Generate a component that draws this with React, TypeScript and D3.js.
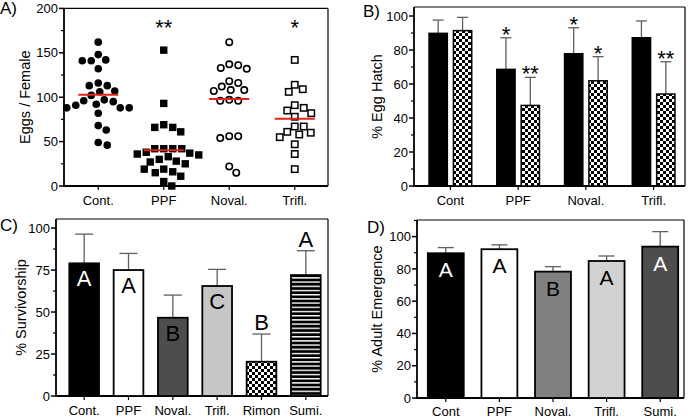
import React from 'react';
import * as d3 from 'd3';

const FONT = "Arial, 'Liberation Sans', Helvetica, sans-serif";

// ---------- Panel A: eggs per female ----------
const eggCategories = ['Cont.', 'PPF', 'Noval.', 'Trifl.'];
const eggsCont = [162, 148, 142, 141, 141, 132, 116, 113, 113, 107, 106, 102, 97, 96, 95, 92, 91, 88, 88, 88, 82, 68, 63, 49, 46];
const eggsPPF = [153, 93, 69, 66, 66, 61, 42, 42, 42, 42, 38, 37, 36, 35, 33, 30, 28, 27, 25, 19, 19, 16, 15, 11, 5, 0];
const eggsNoval = [162, 137, 136, 133, 132, 118, 116, 112, 108, 108, 107, 97, 96, 96, 56, 56, 54, 22, 15];
const eggsTrifl = [142, 114, 109, 106, 91, 88, 85, 82, 78, 67, 67, 61, 60, 58, 55, 47, 36, 19];
const eggStars = ['', '**', '', '*'];
const eggTicks = [0, 50, 100, 150, 200];

// ---------- Panel B: % egg hatch ----------
const hatchCategories = ['Cont', 'PPF', 'Noval.', 'Trifl.'];
const hatchSolid = [89.8, 68.6, 77.8, 87.2];
const hatchSolidErr = [7.8, 18.6, 15.3, 9.9];
const hatchChecked = [91.4, 47.4, 61.9, 54.1];
const hatchCheckedErr = [7.8, 16.5, 14.2, 19.0];
const hatchSolidStars = ['', '*', '*', ''];
const hatchCheckedStars = ['', '**', '*', '**'];
const hatchTicks = [0, 20, 40, 60, 80, 100];

// ---------- Panel C: % survivorship ----------
const survCategories = ['Cont.', 'PPF', 'Noval.', 'Trifl.', 'Rimon', 'Sumi.'];
const survValues = [79, 75, 46.6, 65.5, 20.4, 72];
const survErr = [17.4, 9.9, 13.5, 9.9, 16.5, 14.5];
const survLetters = ['A', 'A', 'B', 'C', 'B', 'A'];
const survLetterInside = [true, true, true, true, false, false];
const survTicks = [0, 25, 50, 75, 100];

// ---------- Panel D: % adult emergence ----------
const emergCategories = ['Cont', 'PPF', 'Noval.', 'Trifl.', 'Sumi.'];
const emergValues = [89.7, 92.2, 78.3, 84.9, 93.8];
const emergErr = [3.5, 2.7, 3.1, 3.1, 9.3];
const emergLetters = ['A', 'A', 'B', 'A', 'A'];
const emergTicks = [0, 20, 40, 60, 80, 100];

// ---------- styles ----------
const survFills = ['#000', '#fff', '#4d4d4d', '#c6c6c6', 'url(#checker)', 'url(#hstripes)'];
const survLetterColors = ['#fff', '#000', '#000', '#000', '#000', '#000'];
const emergFills = ['#000', '#fff', '#808080', '#d2d2d2', '#4d4d4d'];
const emergLetterColors = ['#fff', '#000', '#000', '#000', '#fff'];
const ERR = '#5f5f5f';
const STAR = 22;

function swarm(values: number[], y: (v: number) => number, cx: number, minDist: number) {
  const pts = values.map((v) => ({ v, y: y(v), x: 0 }));
  const order = [...pts].sort((a, b) => b.v - a.v);
  const placed: { x: number; y: number }[] = [];
  for (const p of order) {
    let found = 0;
    for (let k = 0; k < 200; k++) {
      const cands = k === 0 ? [0] : [k * 0.5, -k * 0.5];
      let ok = false;
      for (const dx of cands) {
        if (placed.every((q) => (q.x - dx) ** 2 + (q.y - p.y) ** 2 >= minDist * minDist)) {
          found = dx;
          ok = true;
          break;
        }
      }
      if (ok) break;
    }
    p.x = found;
    placed.push({ x: found, y: p.y });
  }
  return pts.map((p) => ({ ...p, x: cx + p.x }));
}

function minorsOf(majors: number[], max: number) {
  const out: number[] = [];
  const step = majors[1] - majors[0];
  for (let i = 0; i < majors.length; i++) {
    const m = majors[i] + step / 2;
    if (m <= max) out.push(m);
  }
  return out;
}

function Frame(props: {
  x0: number; x1: number; y: d3.ScaleLinear<number, number>; majors: number[];
  cats: string[]; xPos: (c: string) => number; yLabel: string; yLabelX: number;
  panel: string; panelX: number; panelY: number; catDy: number;
}) {
  const { x0, x1, y, majors, cats, xPos, yLabel, yLabelX, panel, panelX, panelY, catDy } = props;
  const [b, t] = y.range();
  const minors = minorsOf(majors, y.domain()[1]);
  return (
    <g>
      <line x1={x0} x2={x1} y1={t} y2={t} stroke="#000" strokeWidth={1.2} />
      <line x1={x1} x2={x1} y1={t} y2={b} stroke="#000" strokeWidth={1.2} />
      <line x1={x0} x2={x0} y1={t} y2={b + 0.8} stroke="#000" strokeWidth={1.8} />
      <line x1={x0 - 0.8} x2={x1} y1={b} y2={b} stroke="#000" strokeWidth={1.8} />
      {majors.map((v) => (
        <g key={'M' + v}>
          <line x1={x0 - 5} x2={x0} y1={y(v)} y2={y(v)} stroke="#000" strokeWidth={1.5} />
          <text x={x0 - 6} y={y(v)} dy="0.36em" textAnchor="end" fontSize={13}>{v}</text>
        </g>
      ))}
      {minors.map((v) => (
        <line key={'m' + v} x1={x0 - 3} x2={x0} y1={y(v)} y2={y(v)} stroke="#000" strokeWidth={1.2} />
      ))}
      {cats.map((c) => (
        <g key={c}>
          <line x1={xPos(c)} x2={xPos(c)} y1={b} y2={b + 4} stroke="#000" strokeWidth={1.2} />
          <text x={xPos(c)} y={b + catDy} textAnchor="middle" fontSize={13}>{c}</text>
        </g>
      ))}
      <text transform={`translate(${yLabelX},${(b + t) / 2}) rotate(-90)`} textAnchor="middle" dy="0.35em" fontSize={14.5}>
        {yLabel}
      </text>
      <text x={panelX} y={panelY} fontSize={17}>{panel}</text>
    </g>
  );
}

function ErrBar({ x, y0, y1, cap }: { x: number; y0: number; y1: number; cap: number }) {
  return (
    <g stroke={ERR} strokeWidth={1.3}>
      <line x1={x} x2={x} y1={y0} y2={y1} />
      <line x1={x - cap / 2} x2={x + cap / 2} y1={y1} y2={y1} />
    </g>
  );
}

function PanelA() {
  const y = d3.scaleLinear().domain([0, 200]).range([186, 8.4]);
  const x = d3.scalePoint<string>().domain(eggCategories).range([65.5, 327.5]).padding(0.5);
  const groups = [eggsCont, eggsPPF, eggsNoval, eggsTrifl];
  return (
    <g>
      <Frame x0={64} x1={328} y={y} majors={eggTicks} cats={eggCategories} xPos={(c) => x(c)!}
        yLabel="Eggs / Female" yLabelX={25} panel="A)" panelX={0} panelY={14} catDy={19} />
      {groups.map((vals, gi) => {
        const cx = x(eggCategories[gi])!;
        const pts = swarm(vals, y, cx, 9);
        return (
          <g key={gi}>
            {pts.map((p, i) => {
              if (gi === 0) return <circle key={i} cx={p.x} cy={p.y} r={3.8} fill="#000" />;
              if (gi === 1) return <rect key={i} x={p.x - 3.7} y={p.y - 3.7} width={7.4} height={7.4} fill="#000" />;
              if (gi === 2) return <circle key={i} cx={p.x} cy={p.y} r={3.2} fill="#fff" stroke="#000" strokeWidth={1.6} />;
              return <rect key={i} x={p.x - 3.2} y={p.y - 3.2} width={6.4} height={6.4} fill="#fff" stroke="#000" strokeWidth={1.5} />;
            })}
            <line x1={cx - 20} x2={cx + 20} y1={y(d3.mean(vals)!)} y2={y(d3.mean(vals)!)} stroke="#e3231b" strokeWidth={2} />
            {eggStars[gi] && (
              <text x={cx} y={y(170)} textAnchor="middle" fontSize={STAR}>{eggStars[gi]}</text>
            )}
          </g>
        );
      })}
    </g>
  );
}

function PanelB() {
  const y = d3.scaleLinear().domain([0, 105.3]).range([186, 7]);
  const x = d3.scalePoint<string>().domain(hatchCategories).range([416.5, 687.5]).padding(0.5);
  const step = x.step();
  const bw = step * 0.27;
  const off = step * 0.18;
  return (
    <g>
      <Frame x0={414} x1={685} y={y} majors={hatchTicks} cats={hatchCategories} xPos={(c) => x(c)!}
        yLabel="% Egg Hatch" yLabelX={377} panel="B)" panelX={363} panelY={17} catDy={19} />
      {hatchCategories.map((c, i) => {
        const cx = x(c)!;
        const xs = cx - off;
        const xc = cx + off;
        const es = y(hatchSolid[i] + hatchSolidErr[i]);
        const ec = y(hatchChecked[i] + hatchCheckedErr[i]);
        return (
          <g key={c}>
            <ErrBar x={xs} y0={y(hatchSolid[i])} y1={es} cap={11} />
            <ErrBar x={xc} y0={y(hatchChecked[i])} y1={ec} cap={11} />
            <rect x={xs - bw / 2} y={y(hatchSolid[i])} width={bw} height={y(0) - y(hatchSolid[i])} fill="#000" stroke="#000" strokeWidth={1.5} />
            <rect x={xc - bw / 2} y={y(hatchChecked[i])} width={bw} height={y(0) - y(hatchChecked[i])} fill="url(#checker)" stroke="#000" strokeWidth={1.5} />
            {hatchSolidStars[i] && <text x={xs} y={es + 4} textAnchor="middle" fontSize={STAR}>{hatchSolidStars[i]}</text>}
            {hatchCheckedStars[i] && <text x={xc} y={ec + 4} textAnchor="middle" fontSize={STAR}>{hatchCheckedStars[i]}</text>}
          </g>
        );
      })}
    </g>
  );
}

function PanelC() {
  const y = d3.scaleLinear().domain([0, 105.4]).range([396, 219]);
  const x = d3.scalePoint<string>().domain(survCategories).range([62, 328]).padding(0.5);
  const bw = x.step() * 0.67;
  return (
    <g>
      <Frame x0={56} x1={328} y={y} majors={survTicks} cats={survCategories} xPos={(c) => x(c)!}
        yLabel="% Survivorship" yLabelX={21} panel="C)" panelX={0} panelY={231} catDy={19} />
      {survCategories.map((c, i) => {
        const cx = x(c)!;
        const top = y(survValues[i]);
        const et = y(survValues[i] + survErr[i]);
        const ly = survLetterInside[i] ? top + 23 : et - 4;
        return (
          <g key={c}>
            <ErrBar x={cx} y0={top} y1={et} cap={18} />
            <rect x={cx - bw / 2} y={top} width={bw} height={y(0) - top} fill={survFills[i]} stroke="#000" strokeWidth={1.8} />
            <text x={cx} y={ly} textAnchor="middle" fontSize={22} fill={survLetterColors[i]}>{survLetters[i]}</text>
          </g>
        );
      })}
    </g>
  );
}

function PanelD() {
  const y = d3.scaleLinear().domain([0, 110.3]).range([398, 220]);
  const x = d3.scalePoint<string>().domain(emergCategories).range([419, 687]).padding(0.5);
  const bw = x.step() * 0.67;
  return (
    <g>
      <Frame x0={417} x1={684} y={y} majors={emergTicks} cats={emergCategories} xPos={(c) => x(c)!}
        yLabel="% Adult Emergence" yLabelX={377} panel="D)" panelX={367} panelY={233} catDy={18} />
      {emergCategories.map((c, i) => {
        const cx = x(c)!;
        const top = y(emergValues[i]);
        const et = y(emergValues[i] + emergErr[i]);
        return (
          <g key={c}>
            <ErrBar x={cx} y0={top} y1={et} cap={16} />
            <rect x={cx - bw / 2} y={top} width={bw} height={y(0) - top} fill={emergFills[i]} stroke="#000" strokeWidth={1.8} />
            <text x={cx} y={top + 24} textAnchor="middle" fontSize={21} fill={emergLetterColors[i]}>{emergLetters[i]}</text>
          </g>
        );
      })}
    </g>
  );
}

export default function App() {
  return (
    <svg width={688} height={418} style={{ position: 'absolute', left: 0, top: 0, background: '#fff' }}
      fontFamily={FONT}>
      <defs>
        <pattern id="checker" width={6} height={6} patternUnits="userSpaceOnUse">
          <rect width={6} height={6} fill="#fff" />
          <rect width={3} height={3} fill="#000" />
          <rect x={3} y={3} width={3} height={3} fill="#000" />
        </pattern>
        <pattern id="hstripes" width={4} height={4.2} patternUnits="userSpaceOnUse">
          <rect width={4} height={4.2} fill="#000" />
          <rect y={0} width={4} height={1.4} fill="#fff" />
        </pattern>
      </defs>
      <rect width={688} height={418} fill="#fff" />
      <PanelA />
      <PanelB />
      <PanelC />
      <PanelD />
    </svg>
  );
}
